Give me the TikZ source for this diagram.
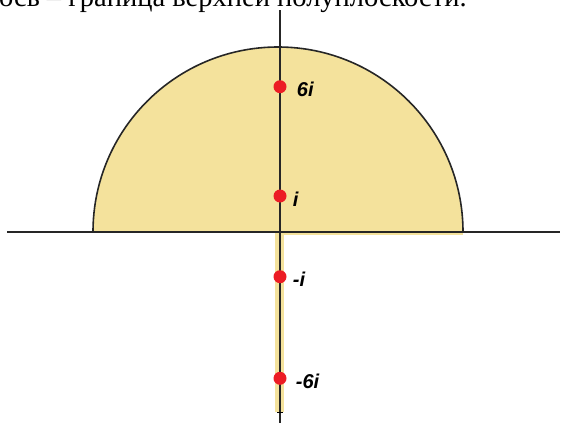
\documentclass[tikz,border=0pt]{standalone}
\usepackage{fontspec}
\setmainfont{Liberation Serif}
\newfontfamily\polefont{Liberation Sans}
\usetikzlibrary{positioning}

\definecolor{regionfill}{RGB}{244,226,156}
\definecolor{polered}{RGB}{236,28,36}

\begin{document}
\begin{tikzpicture}[x=1pt, y=-1pt,
    pole/.style={circle, fill=polered, minimum size=13pt, inner sep=0pt},
    polelabel/.style={font=\polefont\bfseries\itshape\fontsize{20}{20}\selectfont, inner sep=0pt, yshift=-3pt},
    axisline/.style={line width=1.6pt, black!85}]
    \useasboundingbox (0,0) rectangle (562,423);
    \clip (0,0) rectangle (562,423);

    % line of text cut off at the top
    \node[anchor=base west, inner sep=0pt, font=\fontsize{28.5}{28.5}\selectfont] (caption) at (-1,6)
      {ось – граница верхней полуплоскости.};

    % region: half disc plus the cut along the negative imaginary axis
    \fill[regionfill] (93,232) arc[start angle=180, end angle=360, radius=185] -- cycle;
    \fill[regionfill] (280,232) rectangle (463,235);
    \fill[regionfill] (275,232) rectangle (284,412);
    \draw[axisline] (93,232) arc[start angle=180, end angle=360, radius=185];

    % axes
    \draw[axisline] (7,232) -- (560,232);
    \draw[axisline] (280,10) -- (280,423);
    \draw[line width=1pt] (277,412) -- (283,412);

    % poles
    \foreach \name/\y/\lab/\gap in {p6/86.7/6i/10pt, p1/196/i/6pt, m1/276.7/-i/6pt, m6/378.3/-6i/9pt} {
      \node[pole] (\name) at (280,\y) {};
      \node[polelabel, right=\gap of \name] (\name-lab) {\lab};
    }
\end{tikzpicture}
\end{document}
